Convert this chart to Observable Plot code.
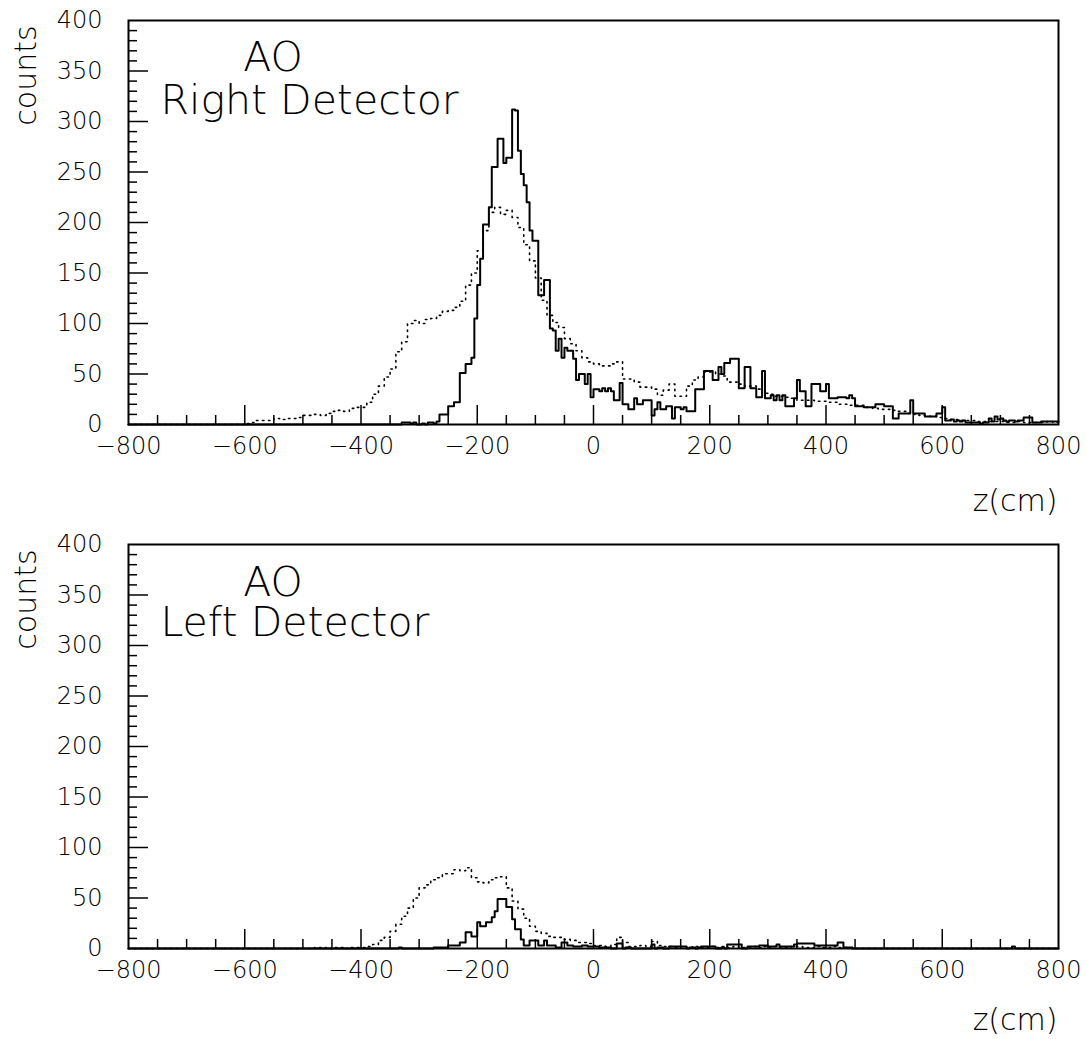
<!DOCTYPE html>
<html>
<head>
<meta charset="utf-8">
<script src="https://cdn.jsdelivr.net/npm/d3@7"></script>
<script src="https://cdn.jsdelivr.net/npm/@observablehq/plot@0.6"></script>
<style>
  html, body { margin: 0; padding: 0; background: #fff; }
  #wrap svg { display: block; }
</style>
</head>
<body>
<div id="wrap"></div>
<script>
// ---------- tick labels ----------
const xTickLabels = [-800, -600, -400, -200, 0, 200, 400, 600, 800];
const yTickLabels = [0, 50, 100, 150, 200, 250, 300, 350, 400];
const xMajorTicks = [-600, -400, -200, 0, 200, 400, 600];
const yMajorTicks = [50, 100, 150, 200, 250, 300, 350];

// ---------- panel texts ----------
const panelTitles = ["AO", "AO"];
const panelSubtitles = ["Right Detector", "Left Detector"];
const xLabel = "z(cm)";
const yLabel = "counts";

// ---------- histogram values ----------
// Right detector, solid histogram: 5 cm bins starting at z = -340
const rightSolidStart = -340, rightSolidWidth = 5;
const rightSolid = [
  0,0,2,2,2,1,2,0,0,1,0,2,2,1,3,10,10,10,18,18,
  22,22,51,51,60,60,66,105,138,164,198,198,215,255,255,283,283,259,264,264,
  312,311,271,248,237,220,192,182,182,128,128,143,143,95,93,73,85,66,76,73,
  73,65,44,50,50,40,50,27,35,35,33,36,33,36,33,24,24,41,20,20,
  15,15,26,20,20,24,24,24,9,15,22,15,15,18,18,6,17,17,15,17,
  13,13,13,35,35,35,53,53,53,44,44,57,50,61,61,65,65,65,36,36,
  57,57,36,36,27,27,53,26,26,29,24,29,24,29,18,18,18,26,44,33,
  33,18,18,40,40,40,33,33,40,26,26,26,27,27,27,26,29,26,18,18,
  18,17,17,17,17,20,20,20,18,18,18,6,6,11,11,11,11,24,11,11,
  11,11,8,8,8,8,11,11,17,4,4,5,3,4,3,4,2,2,2,2,
  2,1,2,2,6,3,8,5,6,4,3,4,4,3,4,4,7,7,7,2,
  2,2,3,3,3,3,3,3
];
// Right detector, dotted histogram: 10 cm bins starting at z = -600
const rightDottedStart = -600, rightDottedWidth = 10;
const rightDotted = [
  1,2,4,4,4,6,5,6,6,7,
  9,9,10,9,11,13,14,13,16,17,
  17,22,30,38,47,55,72,82,100,103,
  100,104,105,108,112,113,116,122,138,150,
  172,192,210,215,208,212,205,195,178,162,
  145,123,108,101,96,85,80,73,66,62,
  60,58,58,60,62,45,45,42,37,37,
  35,29,34,40,28,28,38,44,47,52,
  52,50,48,42,42,40,38,38,35,31,
  30,28,28,27,26,24,24,24,23,23,
  22,22,20,20,19,19,19,17,16,15,
  15,14,13,13,11,10,9,8,8,7,
  6,5,5,4,4,4,3,3,3,3,
  3,2,2,3,2,2,2,2,3,2
];
// Left detector, solid histogram: 5 cm bins starting at z = -340
const leftSolidStart = -340, leftSolidWidth = 5;
const leftSolid = [
  0,1,0,0,0,0,0,0,0,0,0,0,0,1,1,1,1,1,3,3,
  3,3,6,6,16,16,12,12,26,22,22,26,26,31,37,49,49,49,41,41,
  29,19,19,9,3,3,8,8,8,3,3,8,3,3,3,1,1,6,6,3,
  3,2,2,2,3,3,2,2,2,2,1,1,1,1,0,0,5,5,0,1,
  1,0,0,0,0,0,0,0,4,0,1,1,0,0,2,2,2,2,2,2,
  0,1,1,0,1,2,2,2,2,2,0,0,1,0,4,4,4,4,4,0,
  0,2,2,2,2,3,3,3,2,2,2,4,2,2,2,2,2,4,5,5,
  5,5,5,5,3,3,3,3,3,3,3,3,6,6,1,1,1,0,0,0,
  0,0,0,0,0,0,0,0,0,0,0,0,0,0,0,0,0,0,0,0,
  0,0,0,0,0,0,0,0,0,0,0,0,0,0,0,0,0,0,0,0,
  0,0,0,0,0,0,0,0,0,0,0,0,2,0
];
// Left detector, dotted histogram: 10 cm bins starting at z = -480
const leftDottedStart = -480, leftDottedWidth = 10;
const leftDotted = [
  1,1,0,1,1,0,1,1,
  1,2,4,8,11,17,24,32,40,50,
  60,63,68,70,74,74,78,77,80,70,
  66,65,68,70,71,60,47,39,30,22,
  17,15,12,11,11,9,8,6,6,5,
  3,3,2,4,11,6,2,2,3,2,
  7,3,2,2,1,2,1,2,1,1,
  2,1,2,1,2,1,1,2,1,2,
  1,2,1,1,2,2,1,1,2,1,
  1,2,1,1,1
];

// ---------- helpers ----------
const Z_MIN = -800, Z_MAX = 800;
function histPoints(start, width, values) {
  const pts = [];
  for (let z = Z_MIN; z < Z_MAX; z += width) {
    const i = Math.round((z - start) / width);
    pts.push({z, n: (i >= 0 && i < values.length) ? values[i] : 0});
  }
  pts.push({z: Z_MAX, n: pts[pts.length - 1].n});
  return pts;
}
const fmt = d => (d < 0 ? "\u2212" + Math.abs(d) : String(d));
const FONT = "'DejaVu Sans', 'Liberation Sans', sans-serif";
const W = 1087, ML = 128, MR = 29, INNER_H = 404, INNER_W = W - ML - MR;
const xMinor = d3.range(-750, 800, 50).filter(v => !xMajorTicks.includes(v));
const yMinor = d3.range(10, 400, 10).filter(v => !yMajorTicks.includes(v));

function panel({height, marginTop, marginBottom, solid, dotted, title, subtitle, titleDy, subDy, xLabelDy}) {
  return Plot.plot({
    width: W, height, marginTop, marginBottom, marginLeft: ML, marginRight: MR,
    x: {domain: [Z_MIN, Z_MAX]},
    y: {domain: [0, 400]},
    style: {fontFamily: FONT, fontWeight: 200, color: "black", background: "white", fontSize: "24px"},
    marks: [
      Plot.ruleX(xMinor, {insetTop: INNER_H - 9, stroke: "black", strokeWidth: 1.5}),
      Plot.ruleX(xMajorTicks, {insetTop: INNER_H - 19, stroke: "black", strokeWidth: 1.5}),
      Plot.ruleY(yMinor, {insetRight: INNER_W - 9, stroke: "black", strokeWidth: 1.5}),
      Plot.ruleY(yMajorTicks, {insetRight: INNER_W - 20, stroke: "black", strokeWidth: 1.5}),
      Plot.axisX({ticks: xTickLabels, tickSize: 0, tickPadding: 12, tickFormat: fmt, label: null, fontSize: 24}),
      Plot.axisY({ticks: yTickLabels, tickSize: 0, tickPadding: 26, tickFormat: fmt, label: null, fontSize: 24}),
      Plot.line(dotted, {x: "z", y: "n", curve: "step-after", stroke: "black", strokeWidth: 1.6, strokeDasharray: "1.5,4.5"}),
      Plot.line(solid, {x: "z", y: "n", curve: "step-after", stroke: "black", strokeWidth: 2}),
      Plot.frame({stroke: "black", strokeWidth: 2}),
      Plot.text([title], {text: d => d, frameAnchor: "top-left", dx: 144.5, dy: titleDy, textAnchor: "middle", lineAnchor: "bottom", fontSize: 41}),
      Plot.text([subtitle], {text: d => d, frameAnchor: "top-left", dx: 32, dy: subDy, textAnchor: "start", lineAnchor: "bottom", fontSize: 41}),
      Plot.text([yLabel], {text: d => d, frameAnchor: "top-left", dx: -102, dy: 55, rotate: -90, textAnchor: "middle", lineAnchor: "middle", fontSize: 30}),
      Plot.text([xLabel], {text: d => d, frameAnchor: "bottom-right", dx: -1, dy: xLabelDy, textAnchor: "end", lineAnchor: "middle", fontSize: 30})
    ]
  });
}

const wrap = document.getElementById("wrap");
wrap.appendChild(panel({
  height: 520, marginTop: 20, marginBottom: 96,
  solid: histPoints(rightSolidStart, rightSolidWidth, rightSolid),
  dotted: histPoints(rightDottedStart, rightDottedWidth, rightDotted),
  title: panelTitles[0], subtitle: panelSubtitles[0], titleDy: 50, subDy: 93, xLabelDy: 77
}));
wrap.appendChild(panel({
  height: 519, marginTop: 24, marginBottom: 91,
  solid: histPoints(leftSolidStart, leftSolidWidth, leftSolid),
  dotted: histPoints(leftDottedStart, leftDottedWidth, leftDotted),
  title: panelTitles[1], subtitle: panelSubtitles[1], titleDy: 51, subDy: 91, xLabelDy: 72
}));
</script>
</body>
</html>
